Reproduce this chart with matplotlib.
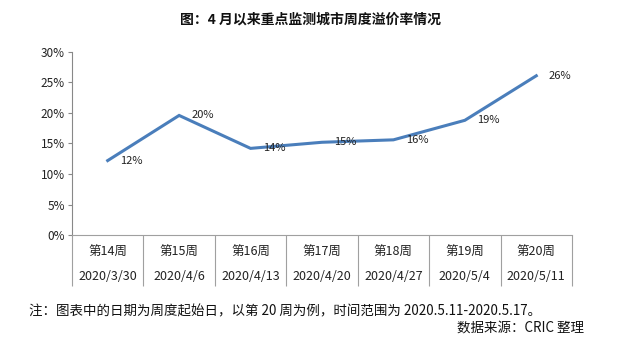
import matplotlib.pyplot as plt
import matplotlib.transforms as mtransforms

plt.rcParams['font.family'] = ['Noto Sans CJK SC', 'DejaVu Sans']

# 数据
weeks = ['第14周', '第15周', '第16周', '第17周', '第18周', '第19周', '第20周']
dates = ['2020/3/30', '2020/4/6', '2020/4/13', '2020/4/20', '2020/4/27', '2020/5/4', '2020/5/11']
rate = [12.2, 19.6, 14.2, 15.2, 15.6, 18.8, 26.1]
labels = ['12%', '20%', '14%', '15%', '16%', '19%', '26%']
yticks = [0, 5, 10, 15, 20, 25, 30]

fig = plt.figure(figsize=(6.21, 3.62), dpi=100)
ax = fig.add_axes([0.1159, 0.3508, 0.8052, 0.5056])

x = list(range(len(weeks)))
ax.plot(x, rate, color='#4A7EBB', lw=2.2, solid_joinstyle='miter')
for xi, v, lab in zip(x, rate, labels):
    ax.annotate(lab, (xi, v), xytext=(9, 0), textcoords='offset points',
                ha='left', va='center', fontsize=8, color='#222222')

ax.set_xlim(-0.5, len(weeks) - 0.5)
ax.set_ylim(0, 30)
ax.set_yticks(yticks)
ax.set_yticklabels([f'{t}%' for t in yticks], fontsize=8.5, color='#222222')

# 分类轴边界线
ax.set_xticks([i - 0.5 for i in range(len(weeks) + 1)])
ax.set_xticklabels([])
ax.tick_params(axis='x', length=37, width=0.8, color='#A0A0A0', direction='out')
ax.tick_params(axis='y', length=3, width=0.8, color='#888888', pad=2)

for s in ['top', 'right']:
    ax.spines[s].set_visible(False)
ax.spines['left'].set_color('#888888')
ax.spines['bottom'].set_color('#A0A0A0')
ax.spines['left'].set_linewidth(0.8)
ax.spines['bottom'].set_linewidth(0.8)

trans = mtransforms.blended_transform_factory(ax.transData, fig.transFigure)
for xi, w, d in zip(x, weeks, dates):
    ax.text(xi, 1 - 252 / 362, w, transform=trans, ha='center', va='center',
            fontsize=9, color='#222222')
    ax.text(xi, 1 - 277 / 362, d, transform=trans, ha='center', va='center',
            fontsize=9, color='#222222')

fig.text(0.5, 1 - 20 / 362, '图：4 月以来重点监测城市周度溢价率情况', ha='center', va='center',
         fontsize=10, fontweight='bold', color='#111111')
fig.text(29 / 621, 1 - 311 / 362,
         '注：图表中的日期为周度起始日，以第 20 周为例，时间范围为 2020.5.11-2020.5.17。',
         ha='left', va='center', fontsize=9.7, color='#111111')
fig.text(584 / 621, 1 - 328 / 362, '数据来源：CRIC 整理', ha='right', va='center',
         fontsize=9.7, color='#111111')

fig.savefig('out.png', dpi=100)
